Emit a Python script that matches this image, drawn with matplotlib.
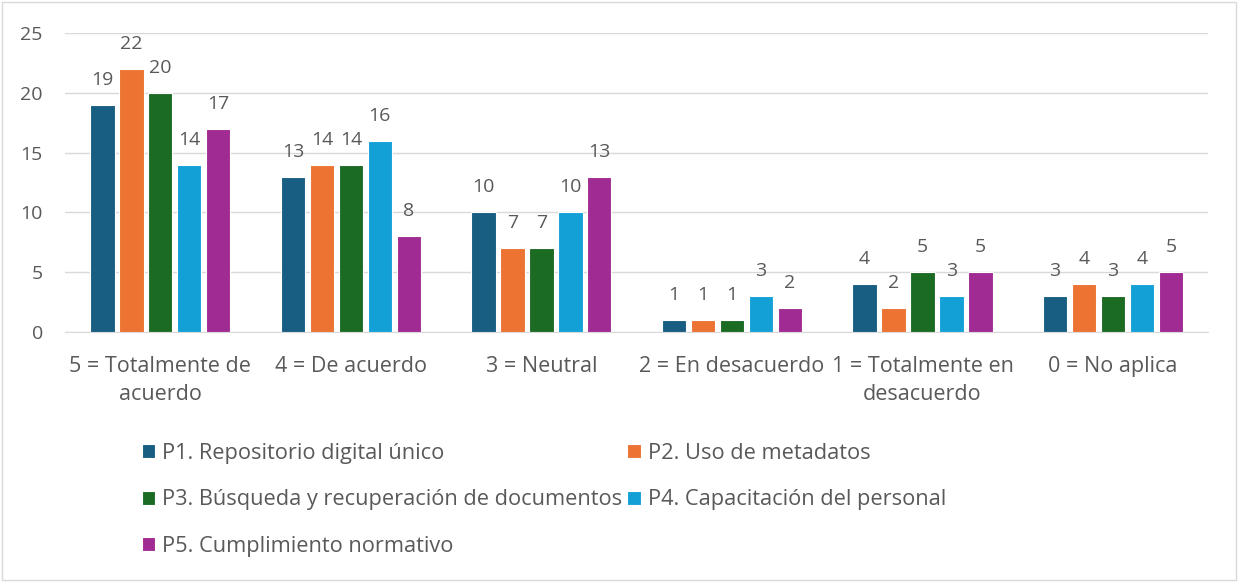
import matplotlib.pyplot as plt
import numpy as np
from matplotlib.patches import Rectangle

plt.rcParams['font.family'] = ['Open Sans', 'DejaVu Sans']

categorias = ['5 = Totalmente de\nacuerdo', '4 = De acuerdo', '3 = Neutral',
              '2 = En desacuerdo', '1 = Totalmente en\ndesacuerdo', '0 = No aplica']
series = ['P1. Repositorio digital único', 'P2. Uso de metadatos',
          'P3. Búsqueda y recuperación de documentos', 'P4. Capacitación del personal',
          'P5. Cumplimiento normativo']
p1 = [19, 13, 10, 1, 4, 3]
p2 = [22, 14, 7, 1, 2, 4]
p3 = [20, 14, 7, 1, 5, 3]
p4 = [14, 16, 10, 3, 3, 4]
p5 = [17, 8, 13, 2, 5, 5]
colores = ['#175E82', '#ED7332', '#1B6B23', '#12A0D7', '#A02B93']

fig = plt.figure(figsize=(12.38, 5.82), dpi=100)
ax = fig.add_axes([0.0525, 0.4296, 0.9235, 0.5137])
fig.patches.append(Rectangle((0.002, 0.003), 0.996, 0.994, transform=fig.transFigure,
                             fill=False, edgecolor='#D9D9D9', lw=1))

x = np.arange(len(categorias))
paso = 0.152
ancho = 0.128
texto = '#595959'
handles = []
for i, (vals, nom) in enumerate(zip([p1, p2, p3, p4, p5], series)):
    pos = x + (i - 2) * paso
    bars = ax.bar(pos, vals, ancho, color=colores[i], edgecolor='white', linewidth=0.8,
                  label=nom, zorder=3)
    handles.append(bars)
    for b, v in zip(bars, vals):
        ax.annotate(str(v), (b.get_x() + b.get_width() / 2, v), xytext=(0, 11.5),
                    textcoords='offset points', ha='center', va='bottom',
                    fontsize=14, color=texto)

ax.set_xlim(-0.5, len(categorias) - 0.5)
ax.set_ylim(0, 25)
ax.set_yticks(range(0, 26, 5))
ax.set_xticks(x)
ax.tick_params(axis='both', length=0, labelcolor=texto)
ax.tick_params(axis='x', pad=17, labelsize=15.5)
ax.tick_params(axis='y', pad=16, labelsize=14)
ax.set_xticklabels(categorias, linespacing=1.45)
ax.grid(axis='y', color='#D9D9D9', lw=1, zorder=0)
for s in ['top', 'right', 'left']:
    ax.spines[s].set_visible(False)
ax.spines['bottom'].set_color('#D9D9D9')

# orden por filas: P1 P2 / P3 P4 / P5
orden = [0, 2, 4, 1, 3]
leg = fig.legend([handles[k] for k in orden], [series[k] for k in orden],
                 loc='upper left', bbox_to_anchor=(0.1147, 0.2388), ncol=2, frameon=False,
                 fontsize=15.7, labelcolor=texto, handlelength=0.6, handleheight=0.6,
                 handletextpad=0.33, columnspacing=0.23, labelspacing=1.16,
                 borderpad=0, borderaxespad=0)

fig.savefig('out.png', dpi=100)
